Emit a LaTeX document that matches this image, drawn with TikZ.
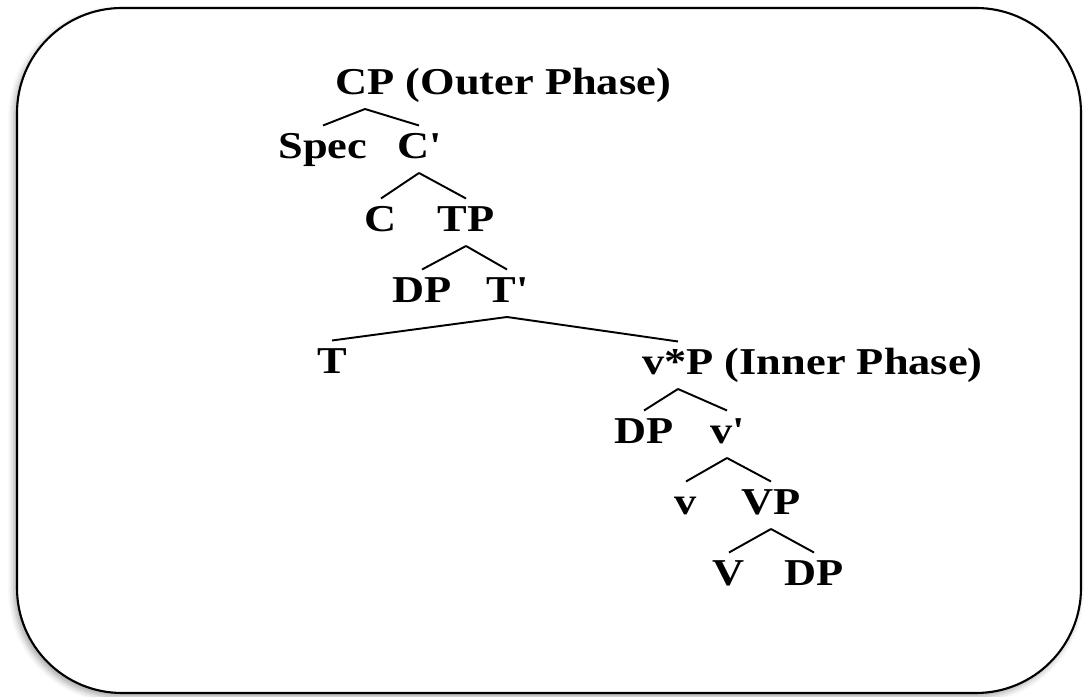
\documentclass[tikz,border=0pt]{standalone}
\usepackage{fontspec}
\setmainfont[FakeStretch=1.17]{Liberation Serif}
\usetikzlibrary{shadows.blur}

\tikzset{
    cat/.style={font=\bfseries\fontsize{21.6}{26}\selectfont, anchor=base,
        inner sep=0pt, outer xsep=0pt, outer ysep=0.17cm,
        text height=0.5cm, text depth=0.11cm},
    branch/.style={line width=1.1pt},
}

\begin{document}
\begin{tikzpicture}
    \useasboundingbox (0,0) rectangle (21.72,13.92);
    \draw[line width=1.2pt, rounded corners=2.1cm, fill=white,
        blur shadow={shadow xshift=-0.06cm, shadow yshift=-0.08cm,
            shadow blur radius=0.12cm, shadow opacity=35}]
        (0.34,0.06) rectangle (21.62,13.76);

    % CP layer
    \node[cat] (cp) at (7.30,12.02) {CP};
    \node[cat, anchor=base west] (cpnote) at (cp.base east) {\ (Outer Phase)};
    \node[cat] (spec) at (6.46,10.74) {Spec};
    \node[cat] (cbar) at (8.38,10.74) {C\textquotesingle};
    \node[cat] (c) at (7.62,9.28) {C};
    \node[cat] (tp) at (9.32,9.28) {TP};
    \node[cat] (dp1) at (8.44,7.86) {DP};
    \node[cat] (tbar) at (10.14,7.86) {T\textquotesingle};
    \node[cat] (t) at (6.64,6.44) {T};

    % v*P layer
    \node[cat] (vstar) at (13.56,6.42) {v*P};
    \node[cat, anchor=base west] (vnote) at (vstar.base east) {\ (Inner Phase)};
    \node[cat] (dp2) at (12.88,5.04) {DP};
    \node[cat] (vbar) at (14.54,5.04) {v\textquotesingle};
    \node[cat] (v) at (13.72,3.62) {v};
    \node[cat] (vvp) at (15.42,3.62) {VP};
    \node[cat] (vv) at (14.58,2.20) {V};
    \node[cat] (dp3) at (16.28,2.20) {DP};

    \foreach \p/\c in {cp/spec, cp/cbar, cbar/c, cbar/tp, tp/dp1, tp/tbar,
        tbar/t, tbar/vstar, vstar/dp2, vstar/vbar, vbar/v, vbar/vvp,
        vvp/vv, vvp/dp3}
        \draw[branch] (\p.south) -- (\c.north);
\end{tikzpicture}
\end{document}
